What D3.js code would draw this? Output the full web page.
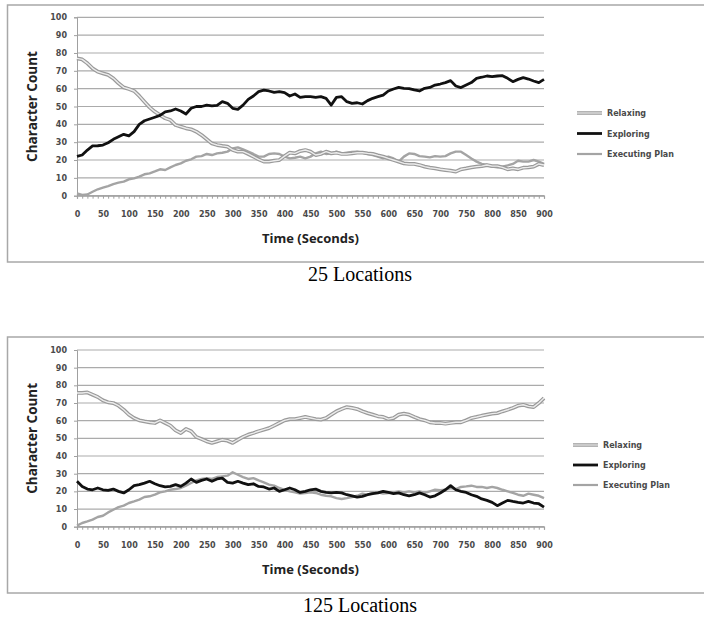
<!DOCTYPE html>
<html>
<head>
<meta charset="utf-8">
<script src="https://cdn.jsdelivr.net/npm/d3@7"></script>
<style>
  body { margin: 0; background: #fff; }
  svg { display: block; }
</style>
</head>
<body>
<div id="chart-area"></div>
<script>

// SVG Size
var width = 704,
	height = 618;

// time steps (seconds), one reading every 10 s
let seconds = d3.range(0, 910, 10);
let xTickLabels = [0,50,100,150,200,250,300,350,400,450,500,550,600,650,700,750,800,850,900];
let yTickLabels = [0,10,20,30,40,50,60,70,80,90,100];
let seriesNames = ["Relaxing", "Exploring", "Executing Plan"];
let captions = ["25 Locations", "125 Locations"];

// 25 locations
let relaxing25 = [77,76.4,74.2,71.4,69.5,68.6,67.7,65.8,63,60.7,59.8,58.7,55.9,52.7,49.5,47.1,45.2,43.4,42.4,39.6,
	38.7,37.8,37.2,35.9,34,31.6,29.3,28.4,27.9,27.5,25.6,24.7,24.7,23.4,21.9,20.4,19.1,19.1,19.6,20,
	22.2,24.1,23.7,25,25.6,24.7,22.8,23.4,24.7,23.7,24.1,23.4,23.4,23.7,24.1,24.1,23.7,23.4,22.6,21.9,
	20.9,20,19.1,18.1,17.8,17.8,17.2,16.3,15.7,15.3,14.8,14.4,14,13.5,14.8,15.3,15.9,16.3,16.6,17.2,
	16.6,16.6,15.9,14.8,15.3,14.8,15.7,15.9,16.3,17.8,17.2];
let exploring25 = [22,22.8,25.6,27.9,28,28.4,29.7,31.6,33,34.4,33.5,35.9,40,42,43,44,45,47,47.5,48.6,
	47.5,45.8,49,50,50,50.8,50.3,50.6,52.7,51.8,49,48.4,50.8,54,55.9,58.3,59.2,58.7,57.9,58.3,
	57.8,55.9,57,55.1,55.5,55.5,55.1,55.5,54.6,50.8,55.1,55.5,52.7,51.8,52.1,51.4,53.3,54.6,55.5,56.4,
	58.7,59.8,60.7,60.2,60,59.3,58.7,60.2,60.7,62,62.6,63.4,64.5,61.5,60.6,62,63.4,65.8,66.4,67.1,
	66.7,67.1,67.3,65.8,63.9,65.2,66.2,65.4,64.3,63.4,65.2];
let executing25 = [1.3,0.4,0.7,2.2,3.6,4.5,5.4,6.5,7.3,7.9,9.2,9.7,10.7,12,12.5,13.6,14.8,14.4,15.9,17.2,
	18.1,19.6,20.4,21.9,22.2,23.4,22.8,23.7,24.1,24.7,26.5,27.1,26,24.7,23.4,21.9,21.9,23.4,23.7,23.4,
	21.9,20.9,21.3,21.9,20.9,21.9,23.7,24.7,23.4,23.7,24.7,23.7,24.1,24.5,24.7,24.1,23.4,22.8,21.9,20.9,
	21.9,20.9,19.1,21.9,23.7,23.4,22.2,21.9,21.5,22.2,21.9,22.2,23.7,24.7,24.7,22.8,20.9,19.1,17.8,17.2,
	16.3,15.9,16.3,17,17.8,19.6,19.1,19.1,20,19.1,17.8];

// 125 locations
let relaxing125 = [75.7,75.7,76,74.7,73.4,71.5,70.4,70,68.5,66.2,63.4,61.5,60.2,59.6,59.1,58.7,60.2,58.7,57.2,54.5,
	53,55.3,54,50.8,49.6,48.3,47.4,48.3,49.2,48.7,47.4,49.2,50.8,52.1,53,54,54.9,55.8,57.2,58.7,
	60.2,60.9,60.9,61.5,62.1,61.5,60.9,60.6,61.5,63.4,65.3,66.6,67.7,67.2,66.6,65.3,64.3,63.4,62.5,62.1,
	60.9,61.5,63.4,64,63.4,62.1,60.9,60.2,59.1,58.7,58.7,58.3,58.7,59.1,59.1,60.2,61.5,62.1,62.8,63.4,
	64,64.3,65.3,66.2,67.2,68.5,69,68.1,67.7,70,72.8];
let exploring125 = [25.7,22.8,21.3,20.9,21.9,20.9,20.6,21.3,20,19.1,20.9,23.2,23.8,24.7,25.7,24.3,23.2,22.5,22.8,23.8,
	22.8,24.7,27,25.1,26.2,27,25.7,27,27.5,25.1,24.7,25.7,24.7,23.8,24.3,22.8,22.5,21.3,21.9,20,
	20.9,21.9,20.9,19.4,20,20.9,21.3,20,19.4,19.1,19.4,19.1,18.1,17.5,16.8,17.2,18.1,18.7,19.1,20,
	19.4,18.7,19.1,18.1,17.5,18.1,19.1,18.1,16.8,17.5,19.1,20.9,23.2,20.9,20,19.4,18.1,17.2,15.7,14.9,
	13.8,11.9,13.4,14.9,14.3,13.8,13.4,14.3,13.4,13,11.1];
let executing125 = [0.6,2.1,3,4,5.5,6.2,8.1,9.6,11.1,11.9,13.4,14.3,15.3,16.8,17.2,18.1,19.4,20,20.9,21.3,
	21.9,23.2,24.7,26.2,27,27.5,27,28.1,28.5,28.9,30.8,29.4,28.1,27,27.5,26.2,25.1,23.8,23.2,21.9,
	20.9,20,19.4,18.7,19.1,19.4,19.1,18.1,17.5,17.2,16.2,15.7,16.2,16.8,17.5,18.7,18.1,19.1,19.4,18.7,
	19.1,19.4,20,19.4,20,19.4,20,19.1,20,20.9,20.6,20.9,21.9,21.3,22.5,22.8,23.2,22.5,22.5,21.9,
	22.5,21.9,20.9,20,19.1,18.1,17.5,18.7,18.1,17.5,16.2];

let svg = d3.select("#chart-area")
	.append("svg")
	.attr("width", width)
	.attr("height", height);

let tickFont = "'DejaVu Sans', sans-serif";
let titleFont = "'Open Sans', sans-serif";

function drawPanel(opts) {
	// frame
	svg.append("rect")
		.attr("x", 7.5).attr("y", opts.frameTop)
		.attr("width", 720).attr("height", opts.frameBottom - opts.frameTop)
		.attr("fill", "none")
		.attr("stroke", "#a8a8a8")
		.attr("stroke-width", 1.5);

	let x = d3.scaleLinear().domain([0, 900]).range([77, 544]);
	let y = d3.scaleLinear().domain([0, 100]).range([opts.y0, opts.y100]);

	// gridlines
	svg.append("g")
		.selectAll("line")
		.data(yTickLabels)
		.enter()
		.append("line")
		.attr("x1", x(0)).attr("x2", x(900))
		.attr("y1", function(d){ return y(d); })
		.attr("y2", function(d){ return y(d); })
		.attr("stroke", "#ababab")
		.attr("stroke-width", 1.2);

	// y axis
	let yAxis = d3.axisLeft(y)
		.tickValues(yTickLabels)
		.tickSize(3)
		.tickPadding(7);
	let gy = svg.append("g")
		.attr("transform", "translate(" + x(0) + ",0)")
		.call(yAxis);
	gy.select(".domain").attr("stroke", "#a0a0a0");
	gy.selectAll(".tick line").attr("stroke", "#a0a0a0");
	gy.selectAll("text")
		.style("font-family", tickFont)
		.style("font-weight", "bold")
		.style("font-size", "8px")
		.attr("fill", "#4a4a4a");

	// x axis, minor ticks every 10 s, labels every 50 s
	let xAxis = d3.axisBottom(x)
		.tickValues(seconds)
		.tickSize(3)
		.tickPadding(13)
		.tickFormat(function(d){ return xTickLabels.indexOf(d) >= 0 ? d : ""; });
	let gx = svg.append("g")
		.attr("transform", "translate(0," + y(0) + ")")
		.call(xAxis);
	gx.select(".domain").attr("stroke", "#a0a0a0").attr("stroke-width", 1.2);
	gx.selectAll(".tick line").attr("stroke", "#a0a0a0");
	gx.selectAll("text")
		.style("font-family", tickFont)
		.style("font-weight", "bold")
		.style("font-size", "8px")
		.attr("fill", "#4a4a4a");

	// axis titles
	svg.append("text")
		.text("Time (Seconds)")
		.attr("x", (x(0) + x(900)) / 2)
		.attr("y", y(0) + 47)
		.attr("text-anchor", "middle")
		.style("font-family", titleFont)
		.style("font-weight", "bold")
		.style("font-size", "13px")
		.attr("fill", "#222");

	svg.append("text")
		.text("Character Count")
		.attr("transform", "translate(37," + (y(0) + y(100)) / 2 + ") rotate(-90)")
		.attr("text-anchor", "middle")
		.style("font-family", titleFont)
		.style("font-weight", "bold")
		.style("font-size", "13.5px")
		.attr("fill", "#222");

	let line = d3.line()
		.x(function(d, i){ return x(seconds[i]); })
		.y(function(d){ return y(d); });

	// Executing Plan
	svg.append("path")
		.attr("d", line(opts.executing))
		.attr("fill", "none")
		.attr("stroke", "#a4a4a4")
		.attr("stroke-width", 2.4)
		.attr("stroke-linejoin", "round");

	// Relaxing (double line)
	svg.append("path")
		.attr("d", line(opts.relaxing))
		.attr("fill", "none")
		.attr("stroke", "#9a9a9a")
		.attr("stroke-width", 3.8)
		.attr("stroke-linejoin", "round");
	svg.append("path")
		.attr("d", line(opts.relaxing))
		.attr("fill", "none")
		.attr("stroke", "#ececec")
		.attr("stroke-width", 1.4)
		.attr("stroke-linejoin", "round");

	// Exploring
	svg.append("path")
		.attr("d", line(opts.exploring))
		.attr("fill", "none")
		.attr("stroke", "#111")
		.attr("stroke-width", 2.8)
		.attr("stroke-linejoin", "round");

	// legend
	let legend = svg.append("g");
	seriesNames.forEach(function(name, i){
		let ly = opts.legendY + i * opts.legendStep;
		if (i == 0) {
			legend.append("line").attr("x1", opts.legendX).attr("x2", opts.legendX + 25)
				.attr("y1", ly).attr("y2", ly).attr("stroke", "#9a9a9a").attr("stroke-width", 3.5);
			legend.append("line").attr("x1", opts.legendX).attr("x2", opts.legendX + 25)
				.attr("y1", ly).attr("y2", ly).attr("stroke", "#ececec").attr("stroke-width", 1.2);
		} else {
			legend.append("line").attr("x1", opts.legendX).attr("x2", opts.legendX + 25)
				.attr("y1", ly).attr("y2", ly)
				.attr("stroke", i == 1 ? "#111" : "#a4a4a4")
				.attr("stroke-width", i == 1 ? 2.8 : 2.2);
		}
		legend.append("text")
			.text(name)
			.attr("x", opts.legendX + 30)
			.attr("y", ly + 3)
			.style("font-family", tickFont)
			.style("font-weight", "bold")
			.style("font-size", "8px")
			.attr("fill", "#4a4a4a");
	});

	// caption
	svg.append("text")
		.text(opts.caption)
		.attr("x", 360)
		.attr("y", opts.captionY)
		.attr("text-anchor", "middle")
		.style("font-family", "'Liberation Serif', 'Times New Roman', serif")
		.style("font-size", "20px")
		.attr("fill", "#000");
}

drawPanel({
	frameTop: 5, frameBottom: 262,
	y0: 195.7, y100: 17.3,
	relaxing: relaxing25, exploring: exploring25, executing: executing25,
	legendX: 577, legendY: 113, legendStep: 20.5,
	caption: captions[0], captionY: 281
});

drawPanel({
	frameTop: 337, frameBottom: 593,
	y0: 526.7, y100: 350,
	relaxing: relaxing125, exploring: exploring125, executing: executing125,
	legendX: 573, legendY: 445, legendStep: 20,
	caption: captions[1], captionY: 612
});

</script>
</body>
</html>
